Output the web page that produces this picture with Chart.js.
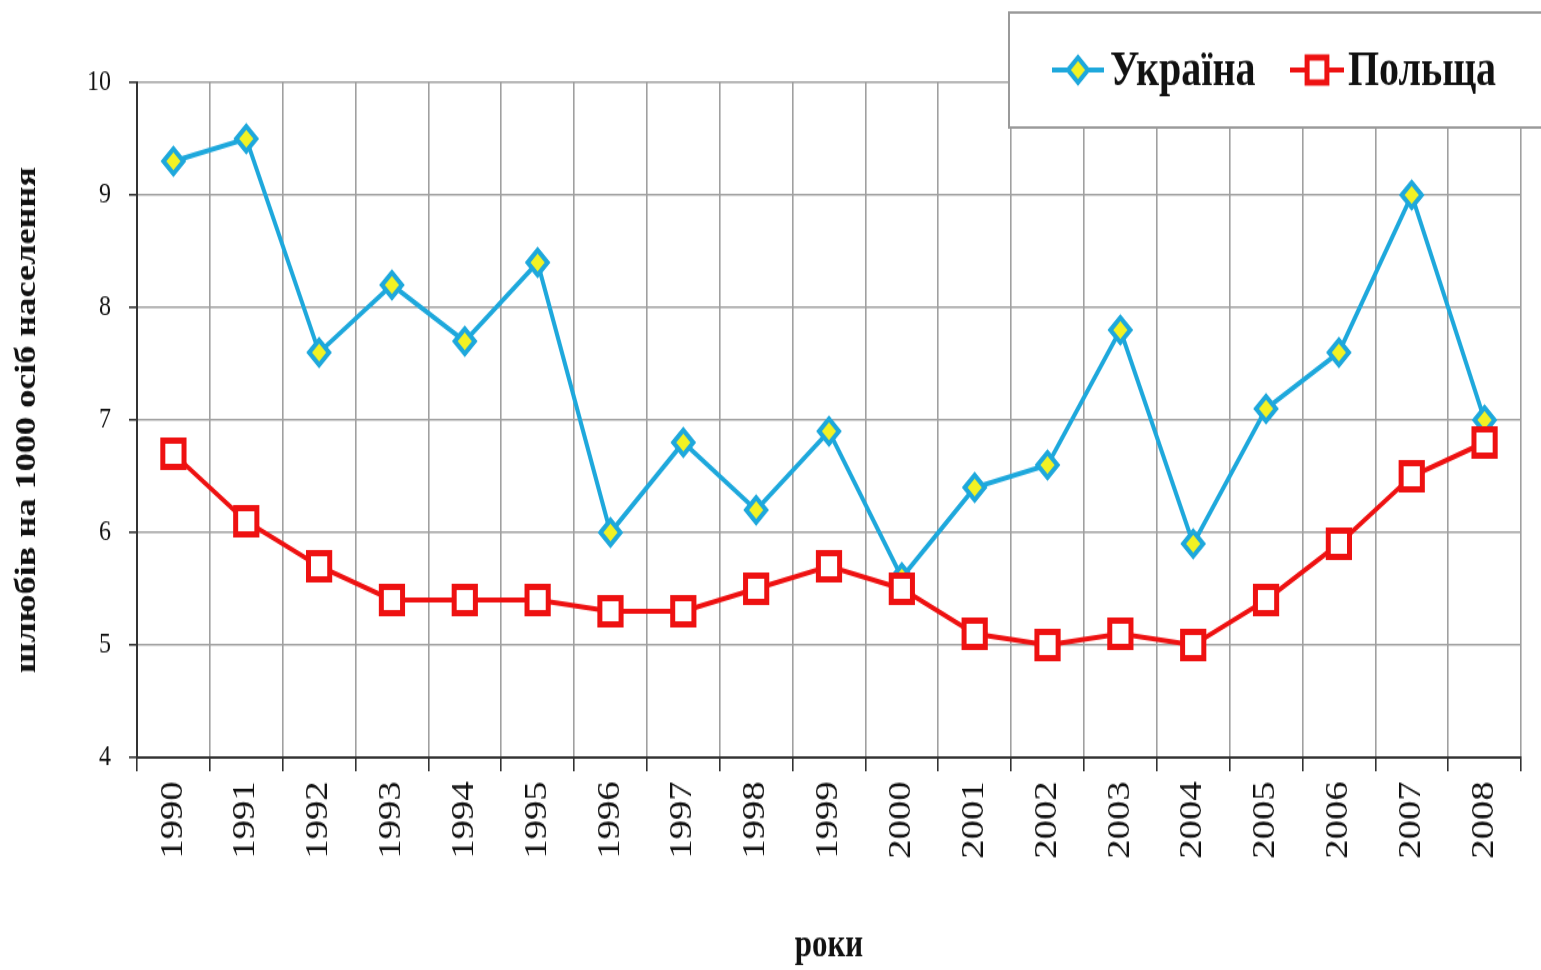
<!DOCTYPE html>
<html>
<head>
<meta charset="utf-8">
<script src="https://cdn.jsdelivr.net/npm/chart.js@4.4.1/dist/chart.umd.min.js"></script>
<style>
  html { margin: 0; padding: 0; background: #fff; overflow: hidden; }
  body { margin: 0; padding: 0; background: #fff; width: 1541px; height: 970px; }
  #wrap { width: 1541px; height: 776px; transform: scale(1, 1.25); transform-origin: 0 0; }
</style>
</head>
<body>
<div id="wrap"><canvas id="c" width="1541" height="776"></canvas></div>
<script>
const years = ['1990','1991','1992','1993','1994','1995','1996','1997','1998','1999','2000','2001','2002','2003','2004','2005','2006','2007','2008'];
const ukraine = [9.3, 9.5, 7.6, 8.2, 7.7, 8.4, 6.0, 6.8, 6.2, 6.9, 5.6, 6.4, 6.6, 7.8, 5.9, 7.1, 7.6, 9.0, 7.0];
const poland  = [6.7, 6.1, 5.7, 5.4, 5.4, 5.4, 5.3, 5.3, 5.5, 5.7, 5.5, 5.1, 5.0, 5.1, 5.0, 5.4, 5.9, 6.5, 6.8];
const seriesNames = ['Україна', 'Польща'];
const yTitle = 'шлюбів на 1000 осіб населення';
const xTitle = 'роки';

const BLUE = '#1ea8dc';
const YELLOW = '#f2f224';
const RED = '#ee1111';
const SERIF = '"Liberation Serif", "DejaVu Serif", serif';

const legendPlugin = {
  id: 'boxLegend',
  afterDraw(chart) {
    const ctx = chart.ctx;
    ctx.save();
    ctx.fillStyle = '#ffffff';
    ctx.strokeStyle = '#9a9a9a';
    ctx.lineWidth = 2;
    ctx.fillRect(1009, 10, 540, 92);
    ctx.strokeRect(1009, 10, 540, 92);
    const y = 56;
    const items = [
      {x0: 1052, x1: 1104, tx: 1110, color: BLUE, fill: YELLOW, style: 'rectRot', r: 10, bw: 4, text: seriesNames[0]},
      {x0: 1290, x1: 1344, tx: 1348, color: RED, fill: '#ffffff', style: 'rect', r: 14, bw: 5, text: seriesNames[1]}
    ];
    items.forEach(it => {
      ctx.strokeStyle = it.color;
      ctx.lineWidth = 4;
      ctx.beginPath();
      ctx.moveTo(it.x0, y);
      ctx.lineTo(it.x1, y);
      ctx.stroke();
      ctx.fillStyle = it.fill;
      ctx.strokeStyle = it.color;
      ctx.lineWidth = it.bw;
      Chart.helpers.drawPoint(ctx, {pointStyle: it.style, radius: it.r, borderWidth: it.bw, rotation: 0}, (it.x0 + it.x1) / 2, y);
      ctx.fillStyle = '#111';
      ctx.font = 'bold 40px ' + SERIF;
      ctx.textBaseline = 'middle';
      ctx.textAlign = 'left';
      ctx.fillText(it.text, it.tx, y + 2);
    });
    ctx.restore();
  }
};

new Chart(document.getElementById('c'), {
  type: 'line',
  data: {
    labels: years,
    datasets: [
      {
        label: seriesNames[0], data: ukraine, order: 2,
        borderColor: BLUE, borderWidth: 4, backgroundColor: YELLOW,
        pointStyle: 'rectRot', pointRadius: 10, pointBorderWidth: 4,
        pointBorderColor: BLUE, pointBackgroundColor: YELLOW, tension: 0
      },
      {
        label: seriesNames[1], data: poland, order: 1,
        borderColor: RED, borderWidth: 4, backgroundColor: '#fff',
        pointStyle: 'rect', pointRadius: 15, pointBorderWidth: 5,
        pointBorderColor: RED, pointBackgroundColor: '#ffffff', tension: 0
      }
    ]
  },
  options: {
    responsive: false,
    animation: false,
    devicePixelRatio: 1,
    layout: { padding: { top: 66, right: 18, left: 0, bottom: 0 } },
    plugins: { legend: { display: false }, tooltip: { enabled: false } },
    scales: {
      x: {
        offset: true,
        grid: { offset: true, color: '#a0a0a0', lineWidth: 1.6, tickLength: 11, tickColor: '#333', drawTicks: true },
        border: { display: true, color: '#333', width: 2 },
        ticks: { color: '#111', font: { family: SERIF, size: 31 }, maxRotation: 90, minRotation: 90, padding: 8, autoSkip: false },
        title: { display: true, text: xTitle, color: '#111', font: { family: SERIF, size: 31, weight: 'bold' }, padding: { top: 0, bottom: 0 } },
        afterFit(scale) { scale.height = 170; }
      },
      y: {
        min: 4, max: 10,
        grid: { color: '#a0a0a0', lineWidth: 1.6, tickLength: 8, tickColor: '#333' },
        border: { display: true, color: '#333', width: 2 },
        ticks: { stepSize: 1, color: '#111', font: { family: SERIF, size: 24 }, padding: 18 },
        title: { display: true, text: yTitle, color: '#111', font: { family: SERIF, size: 29, weight: 'bold' }, padding: { top: 10, bottom: 0 } },
        afterFit(scale) { scale.width = 137; }
      }
    }
  },
  plugins: [legendPlugin]
});
</script>
</body>
</html>
